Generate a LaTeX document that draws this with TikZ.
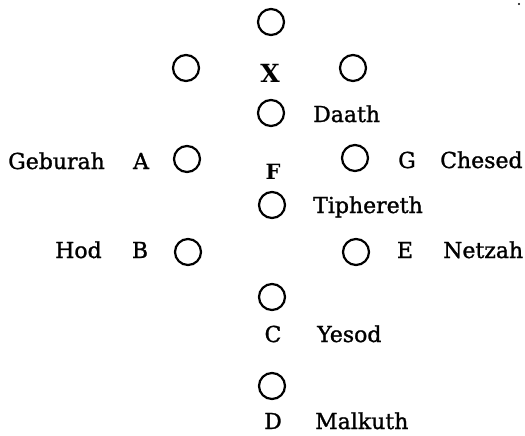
\documentclass[tikz,border=0pt]{standalone}
\usepackage{fontspec}
\setmainfont{DejaVu Serif}
\newfontfamily\heavyserif[FakeBold=1.2]{DejaVu Serif}
\begin{document}
\begin{tikzpicture}[x=1pt,y=-1pt,
  sef/.style={circle,draw=black,line width=2.2pt,minimum size=26pt,inner sep=0pt},
  lab/.style={anchor=base west,inner sep=0pt,font=\heavyserif\fontsize{22}{24}\selectfont},
  letter/.style={anchor=base,inner sep=0pt,font=\heavyserif\fontsize{22}{24}\selectfont},
  bletter/.style={anchor=base,inner sep=0pt,font=\fontsize{21}{24}\selectfont\bfseries}]
\useasboundingbox[fill=white] (0,0) rectangle (525,436);
% circles
\node[sef] (top) at (271,22) {};
\node[sef] (l2) at (186,68) {};
\node[sef] (r2) at (353,68) {};
\node[sef] (daathc) at (271,113) {};
\node[sef] (geburahc) at (187,159) {};
\node[sef] (chesedc) at (355,158) {};
\node[sef] (tiphc) at (272,205) {};
\node[sef] (hodc) at (188,252) {};
\node[sef] (netzahc) at (356,252) {};
\node[sef] (yesodc) at (272,297) {};
\node[sef] (malkuthc) at (272,386) {};
% letters
\node[bletter,font=\fontsize{25}{26}\selectfont\bfseries] (X) at (270,82) {X};
\node[bletter] (F) at (273,179) {F};
\node[letter] (A) at (141,169) {A};
\node[letter] (G) at (407,168) {G};
\node[letter] (B) at (140,258) {B};
\node[letter] (E) at (405,258) {E};
\node[letter] (C) at (273,342) {C};
\node[letter] (D) at (273,429) {D};
% names
\node[lab] (daath) at (313,122) {Daath};
\node[lab] (geburah) at (8,169) {Geburah};
\node[lab] (chesed) at (440,168) {Chesed};
\node[lab] (tiph) at (313,213) {Tiphereth};
\node[lab] (hod) at (55,258) {Hod};
\node[lab] (netzah) at (443,258) {Netzah};
\node[lab] (yesod) at (317,342) {Yesod};
\node[lab] (malkuth) at (315,429) {Malkuth};
% speck
\fill (519,4) circle (1.2);
\end{tikzpicture}
\end{document}
